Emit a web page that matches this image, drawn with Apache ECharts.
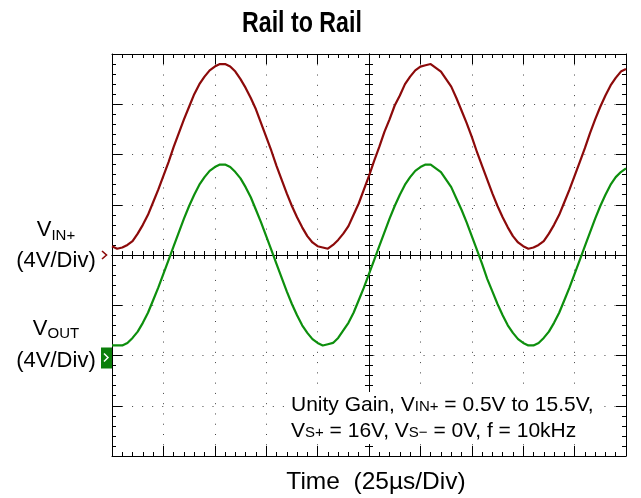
<!DOCTYPE html>
<html>
<head>
<meta charset="utf-8">
<script src="https://cdn.jsdelivr.net/npm/echarts@6/dist/echarts.min.js"></script>
<style>
html,body{margin:0;padding:0;background:#fff;}
#c{width:641px;height:498px;}
</style>
</head>
<body>
<div id="c"></div>
<script>
// Sample step of the scope capture (µs)
const SAMPLE_STEP_US = 2.5;
// Time axis: 25 µs/div, 10 divisions
const TIME_MIN = 0, TIME_MAX = 250, TIME_DIV = 25;
// VIN+ channel (V)
const vinValues = [
  0.7,0.5,0.6,0.8,1.1,1.7,2.4,3.2,4.2,5.2,6.3,7.4,8.6,9.7,10.8,11.8,12.8,13.6,14.2,14.7,
  15.0,15.2,15.2,15.0,14.6,14.0,13.3,12.5,11.6,10.5,9.4,8.3,7.1,6.0,4.9,3.9,3.0,2.2,1.5,1.0,
  0.7,0.6,0.5,0.8,1.2,1.7,2.3,3.2,4.1,5.2,6.3,7.5,8.6,9.8,10.8,11.9,12.7,13.6,14.2,14.7,
  15.0,15.1,15.2,14.9,14.6,14.0,13.4,12.5,11.5,10.5,9.4,8.2,7.1,6.0,4.9,3.9,3.0,2.2,1.5,1.0,
  0.7,0.5,0.6,0.8,1.1,1.7,2.4,3.2,4.2,5.2,6.3,7.4,8.5,9.7,10.8,11.8,12.7,13.5,14.1,14.6,14.8
];
// VOUT channel (V)
const voutValues = [
  0.8,0.8,0.8,1.0,1.4,1.9,2.6,3.4,4.4,5.4,6.5,7.6,8.7,9.8,10.9,11.9,12.8,13.6,14.2,14.7,
  15.0,15.2,15.2,15.0,14.6,14.1,13.4,12.6,11.6,10.6,9.5,8.4,7.3,6.2,5.1,4.1,3.2,2.4,1.8,1.3,
  1.0,0.8,0.9,1.0,1.4,2.0,2.6,3.4,4.4,5.4,6.5,7.6,8.7,9.8,10.9,11.9,12.8,13.6,14.2,14.7,
  15.0,15.2,15.2,14.9,14.6,14.0,13.4,12.5,11.6,10.6,9.5,8.4,7.3,6.1,5.1,4.1,3.2,2.4,1.8,1.3,
  1.0,0.8,0.8,1.0,1.4,1.9,2.6,3.4,4.4,5.4,6.5,7.6,8.7,9.8,10.9,11.9,12.8,13.6,14.2,14.6,14.9
];
// Vertical scales: 4 V/div, 8 divisions; VIN ground at centre, VOUT ground 2 div lower
const VIN_MIN = -16, VIN_MAX = 16;
const VOUT_MIN = -8, VOUT_MAX = 24;
const VOLT_DIV = 4;

const vinData = vinValues.map((v, i) => [i * SAMPLE_STEP_US, v]);
const voutData = voutValues.map((v, i) => [i * SAMPLE_STEP_US, v]);

const FONT = '"Liberation Sans", Arial, Helvetica, sans-serif';
const AX = '#000';
const DOT = '#444';
const RED = '#8c0a0a';
const GREEN = '#0d8f0d';

function borderX(pos) {
  return {
    type: 'value', min: TIME_MIN, max: TIME_MAX, interval: TIME_DIV, position: pos,
    axisLine: {show: true, onZero: false, lineStyle: {color: AX, width: 1}},
    axisTick: {show: true, inside: true, length: 10, lineStyle: {color: AX}},
    minorTick: {show: true, splitNumber: 5, length: 4, lineStyle: {color: AX}},
    axisLabel: {show: false},
    splitLine: {show: false}, minorSplitLine: {show: false}
  };
}
function borderY(pos, min, max) {
  return {
    type: 'value', min: min, max: max, interval: VOLT_DIV, position: pos,
    axisLine: {show: true, onZero: false, lineStyle: {color: AX, width: 1}},
    axisTick: {show: true, inside: true, length: 10, lineStyle: {color: AX}},
    minorTick: {show: true, splitNumber: 5, length: 4, lineStyle: {color: AX}},
    axisLabel: {show: false},
    splitLine: {show: false}, minorSplitLine: {show: false}
  };
}
function centerX(inside) {
  return {
    type: 'value', min: -(TIME_MAX - TIME_MIN) / 2, max: (TIME_MAX - TIME_MIN) / 2, interval: TIME_DIV,
    position: 'bottom',
    axisLine: {show: true, onZero: true, onZeroAxisIndex: 0, lineStyle: {color: AX, width: 1}},
    axisTick: {show: true, inside: inside, length: 4, lineStyle: {color: AX}},
    minorTick: {show: true, splitNumber: 5, length: 4, lineStyle: {color: AX}},
    axisLabel: {show: false},
    splitLine: {show: false}, minorSplitLine: {show: false}
  };
}
function centerY(inside) {
  return {
    type: 'value', min: VIN_MIN, max: VIN_MAX, interval: VOLT_DIV, position: 'left',
    axisLine: {show: true, onZero: true, onZeroAxisIndex: 2, lineStyle: {color: AX, width: 1}},
    axisTick: {show: true, inside: inside, length: 4, lineStyle: {color: AX}},
    minorTick: {show: true, splitNumber: 5, length: 4, lineStyle: {color: AX}},
    axisLabel: {show: false},
    splitLine: {show: false}, minorSplitLine: {show: false}
  };
}

const xBottom = borderX('bottom');
xBottom.splitLine = {show: true, lineStyle: {color: DOT, width: 1, type: [1, 9.27]}};
xBottom.name = 'Time  (25µs/Div)';
xBottom.nameLocation = 'middle';
xBottom.nameGap = 14;
xBottom.nameTextStyle = {fontFamily: FONT, fontSize: 24.5, color: '#000', padding: [0, 0, 0, 14]};

const yLeft = borderY('left', VIN_MIN, VIN_MAX);
yLeft.splitLine = {show: true, lineStyle: {color: DOT, width: 1, type: [1, 9.05]}};

const chart = echarts.init(document.getElementById('c'), null, {renderer: 'canvas'});
chart.setOption({
  animation: false,
  backgroundColor: '#fff',
  grid: {left: 112, right: 15, top: 54, bottom: 42, containLabel: false, outerBoundsMode: 'none'},
  xAxis: [xBottom, borderX('top'), centerX(true), centerX(false)],
  yAxis: [yLeft, borderY('right', VOUT_MIN, VOUT_MAX), centerY(true), centerY(false)],
  series: [
    {name: 'VIN+', type: 'line', xAxisIndex: 0, yAxisIndex: 0, data: vinData,
     showSymbol: false, symbol: 'none', lineStyle: {color: RED, width: 2.2}, z: 5},
    {name: 'VOUT', type: 'line', xAxisIndex: 0, yAxisIndex: 1, data: voutData,
     showSymbol: false, symbol: 'none', lineStyle: {color: GREEN, width: 2.2}, z: 5}
  ]
});

const vinZeroY = chart.convertToPixel({yAxisIndex: 0}, 0);
const voutZeroY = chart.convertToPixel({yAxisIndex: 1}, 0);
const leftX = chart.convertToPixel({xAxisIndex: 0}, TIME_MIN);

const subRich = {
  m: {fontFamily: FONT, fontSize: 22, fill: '#000', lineHeight: 26},
  s: {fontFamily: FONT, fontSize: 15, fill: '#000', lineHeight: 15, verticalAlign: 'bottom'}
};
const annRich = {
  m: {fontFamily: FONT, fontSize: 21, fill: '#000', lineHeight: 26},
  s: {fontFamily: FONT, fontSize: 15, fill: '#000', lineHeight: 15, verticalAlign: 'bottom', padding: [0, 0, 4, 0]}
};

chart.setOption({
  graphic: [
    {type: 'text', x: 242, y: 24, scaleX: 0.8, style: {text: 'Rail to Rail', fontFamily: FONT, fontWeight: 'bold', fontSize: 29, fill: '#000', verticalAlign: 'middle'}},
    {type: 'text', x: 56, y: vinZeroY - 25, style: {text: '{m|V}{s|IN+}', rich: subRich, align: 'center', verticalAlign: 'middle'}},
    {type: 'text', x: 56, y: vinZeroY + 6, style: {text: '(4V/Div)', fontFamily: FONT, fontSize: 22, fill: '#000', align: 'center', verticalAlign: 'middle'}},
    {type: 'text', x: 56, y: voutZeroY - 27, style: {text: '{m|V}{s|OUT}', rich: subRich, align: 'center', verticalAlign: 'middle'}},
    {type: 'text', x: 56, y: voutZeroY + 5, style: {text: '(4V/Div)', fontFamily: FONT, fontSize: 22, fill: '#000', align: 'center', verticalAlign: 'middle'}},
    {type: 'polyline', shape: {points: [[leftX - 10, vinZeroY - 4], [leftX - 5.5, vinZeroY], [leftX - 10, vinZeroY + 4]]},
     style: {stroke: RED, lineWidth: 1.6, fill: null}},
    {type: 'rect', shape: {x: leftX - 11, y: voutZeroY - 8, width: 11, height: 21}, style: {fill: '#0b7f0b'}},
    {type: 'polyline', shape: {points: [[leftX - 8, voutZeroY - 2], [leftX - 4, voutZeroY + 2], [leftX - 8, voutZeroY + 6]]},
     style: {stroke: '#fff', lineWidth: 1.5, fill: null}},
    {type: 'text', left: 287, top: 392, z: 10, style: {text: '{m|Unity Gain, V}{s|IN+}{m| = 0.5V to 15.5V,}\n{m|V}{s|S+}{m| = 16V, V}{s|S\u2212}{m| = 0V, f = 10kHz}', rich: annRich, backgroundColor: '#fff', padding: [0, 4, 0, 4]}}
  ]
});
</script>
</body>
</html>
